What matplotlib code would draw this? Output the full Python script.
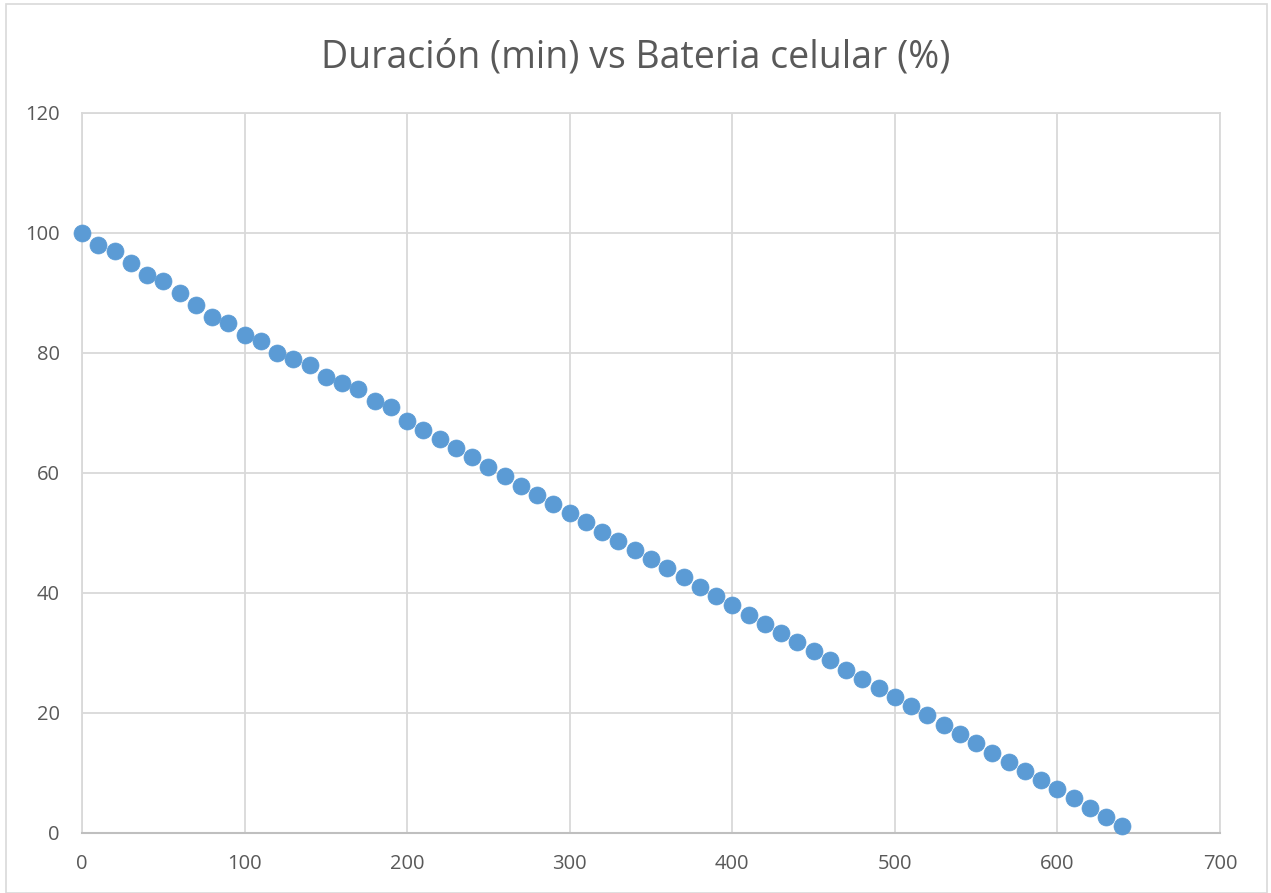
import numpy as np
import matplotlib.pyplot as plt
from matplotlib.patches import Rectangle

plt.rcParams['font.family'] = ['Open Sans', 'DejaVu Sans']

# battery level every 10 minutes
minutos = list(range(0, 650, 10))
bateria = [100, 98, 97, 95, 93, 92, 90, 88, 86, 85,
           83, 82, 80, 79, 78, 76, 75, 74, 72, 71,
           68.7, 67.2, 65.6, 64.1, 62.6, 61.0, 59.5, 57.9, 56.4, 54.8,
           53.3, 51.8, 50.2, 48.7, 47.2, 45.6, 44.1, 42.6, 41.0, 39.5,
           38.0, 36.4, 34.9, 33.4, 31.8, 30.3, 28.8, 27.2, 25.7, 24.2,
           22.6, 21.1, 19.6, 18.0, 16.5, 15.0, 13.4, 11.9, 10.4, 8.8,
           7.3, 5.8, 4.2, 2.7, 1.2]

gris_txt = '#595959'
gris_grid = '#D9D9D9'

fig = plt.figure(figsize=(12.71, 8.93), dpi=100)
ax = fig.add_axes([82 / 1271, 60 / 893, 1138 / 1271, 720 / 893])

ax.scatter(minutos, bateria, s=150, color='#5B9BD5', edgecolors='#5B9BD5',
           linewidths=0.5, zorder=3, clip_on=False)

ax.set_xlim(0, 700)
ax.set_ylim(0, 120)
ax.set_xticks(np.arange(0, 701, 100))
ax.set_yticks(np.arange(0, 121, 20))
ax.grid(True, color=gris_grid, linewidth=1.3)
ax.set_axisbelow(True)

for lado in ['top', 'right', 'left']:
    ax.spines[lado].set_color(gris_grid)
    ax.spines[lado].set_linewidth(1.3)
ax.spines['bottom'].set_color('#BFBFBF')
ax.spines['bottom'].set_linewidth(1.5)
ax.tick_params(length=0, labelsize=14.5, labelcolor=gris_txt, pad=15)
ax.tick_params(axis='y', pad=16)

fig.text(0.5, 0.936, 'Duración (min) vs Bateria celular (%)', ha='center',
         va='center', fontsize=27, color=gris_txt)

# chart frame
fig.patches.append(Rectangle((6 / 1271, 0.0), 1261 / 1271, 0.995,
                             transform=fig.transFigure, fill=False,
                             edgecolor='#D9D9D9', linewidth=1.2))

fig.savefig('out.png', dpi=100, facecolor='white')
